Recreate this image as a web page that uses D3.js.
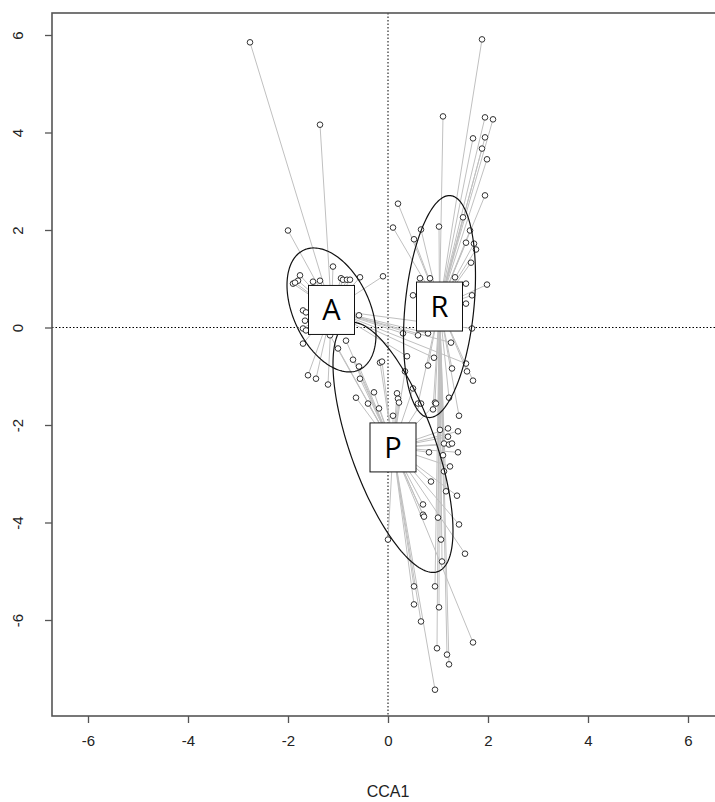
<!DOCTYPE html>
<html>
<head>
<meta charset="utf-8">
<script src="https://cdn.jsdelivr.net/npm/d3@7"></script>
<style>
  html, body { margin: 0; padding: 0; background: #fff; }
  svg { display: block; }
</style>
</head>
<body>
<svg id="chart" width="715" height="802"></svg>
<script>
// ---------------- DATA ----------------
const xTicks = [-6, -4, -2, 0, 2, 4, 6];
const yTicks = [-6, -4, -2, 0, 2, 4, 6];
const xAxisTitle = "CCA1";

const groupNames = ["A", "R", "P"];
// group centroids (CCA1, CCA2)
const centroidX = [-1.13, 1.03, 0.10];
const centroidY = [0.36, 0.43, -2.46];

// ellipse covariance terms per group
const ellSxx = [0.792, 0.518, 1.44];
const ellSxy = [-0.451, 0.455, -2.051];
const ellSyy = [1.617, 5.184, 6.575];

const sitesA = [
  [-2.76, 5.85], [-1.36, 4.16], [-2.00, 1.99], [-1.10, 1.25], [-0.56, 1.03],
  [-0.10, 1.05], [-1.76, 1.07], [-1.80, 0.96], [-1.90, 0.90], [-1.86, 0.92],
  [-1.50, 0.94], [-1.36, 0.96], [-0.94, 1.01], [-0.90, 0.98], [-0.82, 0.98],
  [-0.76, 0.98], [-1.70, 0.35], [-1.64, 0.31], [-1.66, 0.14], [-1.70, -0.02],
  [-1.64, -0.06], [-1.70, -0.33], [-0.58, 0.25], [-1.60, -0.98], [-1.44, -1.05],
  [-1.20, -1.17], [0.30, -0.12], [0.60, -0.16], [0.80, -0.12], [0.38, -0.59],
  [1.68, -0.02], [0.92, -0.62], [1.26, -0.31], [1.56, -0.74]
];

const sitesR = [
  [1.88, 5.91], [1.10, 4.33], [1.94, 4.31], [2.10, 4.27], [1.70, 3.88],
  [1.94, 3.90], [1.88, 3.67], [1.98, 3.45], [1.94, 2.71], [0.20, 2.54],
  [0.10, 2.05], [0.66, 2.01], [1.02, 2.07], [0.52, 1.81], [1.50, 2.26],
  [1.64, 1.99], [1.56, 1.74], [1.72, 1.72], [1.76, 1.60], [1.66, 1.33],
  [0.84, 1.01], [1.34, 1.03], [1.56, 0.90], [1.98, 0.88], [0.50, 0.66],
  [1.68, 0.66], [1.56, 0.49], [0.64, 1.01], [0.80, -0.78], [1.28, -0.84],
  [1.58, -0.90], [1.70, -1.09], [0.94, -1.54], [0.90, -1.68], [1.22, -1.44],
  [1.42, -1.81], [0.60, -1.56], [0.98, -6.58], [1.02, -5.74], [1.18, -6.71],
  [1.22, -6.91], [1.12, -2.95], [1.16, -3.36], [1.12, -2.38], [1.08, -4.80],
  [0.94, -5.31], [1.04, -2.10], [1.10, -2.62], [1.00, -3.90], [1.06, -4.35]
];

const sitesP = [
  [-0.70, -0.66], [-0.58, -0.80], [-0.56, -1.05], [-0.16, -0.72], [-0.12, -0.70],
  [-0.64, -1.44], [-0.28, -1.33], [-0.40, -1.56], [-0.18, -1.66], [0.10, -1.81],
  [0.18, -1.35], [0.20, -1.46], [0.22, -1.54], [0.34, -0.90], [0.50, -1.25],
  [0.66, -1.56], [0.96, -1.56], [1.20, -2.07], [1.40, -2.13], [1.20, -2.24],
  [1.22, -2.40], [1.28, -2.38], [0.82, -2.56], [1.40, -2.56], [1.24, -2.85],
  [0.86, -3.16], [1.38, -3.45], [0.70, -3.63], [0.70, -3.84], [0.72, -3.88],
  [1.42, -4.04], [0.00, -4.35], [1.54, -4.64], [0.52, -5.31], [0.52, -5.68],
  [0.66, -6.03], [1.70, -6.46], [0.94, -7.43], [-1.16, -0.16], [-0.84, -0.27],
  [-1.00, -0.43]
];

const sitesByGroup = [sitesA, sitesR, sitesP];

// ---------------- CHART ----------------
const svg = d3.select("#chart");
const x = d3.scaleLinear().domain([-6, 6]).range([88, 688]);
const y = d3.scaleLinear().domain([-6, 6]).range([620, 35]);

const plotLeft = 52, plotTop = 13, plotBottom = 716, plotRight = 730;
const axisColor = "#555";
const fmt = d => String(d);   // plain hyphen-minus as in R

// dotted zero lines
svg.append("line")
  .attr("x1", x(0)).attr("x2", x(0))
  .attr("y1", plotTop).attr("y2", plotBottom)
  .attr("stroke", "#000").attr("stroke-width", 1)
  .attr("stroke-dasharray", "1.5,2");
svg.append("line")
  .attr("x1", plotLeft).attr("x2", plotRight)
  .attr("y1", y(0)).attr("y2", y(0))
  .attr("stroke", "#000").attr("stroke-width", 1)
  .attr("stroke-dasharray", "1.5,2");

// spider lines
const spider = svg.append("g");
sitesByGroup.forEach((sites, gi) => {
  spider.selectAll(null)
    .data(sites)
    .enter().append("line")
    .attr("x1", d => x(d[0])).attr("y1", d => y(d[1]))
    .attr("x2", x(centroidX[gi])).attr("y2", y(centroidY[gi]))
    .attr("stroke", "#c0c0c0").attr("stroke-width", 1);
});

// points
const pts = svg.append("g");
sitesByGroup.forEach((sites) => {
  pts.selectAll(null)
    .data(sites)
    .enter().append("circle")
    .attr("cx", d => x(d[0])).attr("cy", d => y(d[1]))
    .attr("r", 2.8)
    .attr("fill", "#fff")
    .attr("stroke", "#333").attr("stroke-width", 1);
});

// ellipses
const ellLine = d3.line().x(d => x(d[0])).y(d => y(d[1]));
groupNames.forEach((g, gi) => {
  const l11 = Math.sqrt(ellSxx[gi]);
  const l21 = ellSxy[gi] / l11;
  const l22 = Math.sqrt(ellSyy[gi] - l21 * l21);
  const ep = d3.range(0, 361, 2).map(a => {
    const t = a * Math.PI / 180;
    return [centroidX[gi] + l11 * Math.cos(t),
            centroidY[gi] + l21 * Math.cos(t) + l22 * Math.sin(t)];
  });
  svg.append("path")
    .attr("d", ellLine(ep))
    .attr("fill", "none")
    .attr("stroke", "#111").attr("stroke-width", 1.2);
});

// group labels in boxes
groupNames.forEach((g, gi) => {
  const cx = x(centroidX[gi]), cy = y(centroidY[gi]);
  svg.append("rect")
    .attr("x", cx - 23).attr("y", cy - 24.5)
    .attr("width", 46).attr("height", 49)
    .attr("fill", "#fff").attr("stroke", "#111").attr("stroke-width", 1);
  svg.append("text")
    .attr("x", cx).attr("y", cy + 10.5)
    .attr("text-anchor", "middle")
    .attr("font-family", "Open Sans, Liberation Sans, sans-serif")
    .attr("font-size", 29)
    .attr("fill", "#000")
    .text(g);
});

// frame
svg.append("rect")
  .attr("x", plotLeft).attr("y", plotTop)
  .attr("width", plotRight - plotLeft).attr("height", plotBottom - plotTop)
  .attr("fill", "none").attr("stroke", axisColor).attr("stroke-width", 1.6);

// x axis
const xAxis = d3.axisBottom(x).tickValues(xTicks).tickSize(7).tickPadding(12)
  .tickFormat(fmt);
const gx = svg.append("g").attr("transform", `translate(0,${plotBottom})`).call(xAxis);
gx.select(".domain").remove();
gx.selectAll(".tick line").attr("stroke", axisColor).attr("stroke-width", 1.3);
gx.selectAll(".tick text")
  .attr("font-family", "Liberation Sans, Arial, sans-serif")
  .attr("font-size", 15).attr("fill", "#222");

// y axis
const yAxis = d3.axisLeft(y).tickValues(yTicks).tickSize(7).tickFormat(fmt);
const gy = svg.append("g").attr("transform", `translate(${plotLeft},0)`).call(yAxis);
gy.select(".domain").remove();
gy.selectAll(".tick line").attr("stroke", axisColor).attr("stroke-width", 1.3);
gy.selectAll(".tick text")
  .attr("x", 0).attr("y", 0)
  .attr("dy", "0.35em")
  .attr("text-anchor", "middle")
  .attr("transform", "translate(-34,0) rotate(-90)")
  .attr("font-family", "Liberation Sans, Arial, sans-serif")
  .attr("font-size", 15).attr("fill", "#222");

// x title
svg.append("text")
  .attr("x", x(0)).attr("y", 797)
  .attr("text-anchor", "middle")
  .attr("font-family", "Liberation Sans, Arial, sans-serif")
  .attr("font-size", 16).attr("fill", "#222")
  .text(xAxisTitle);
</script>
</body>
</html>
